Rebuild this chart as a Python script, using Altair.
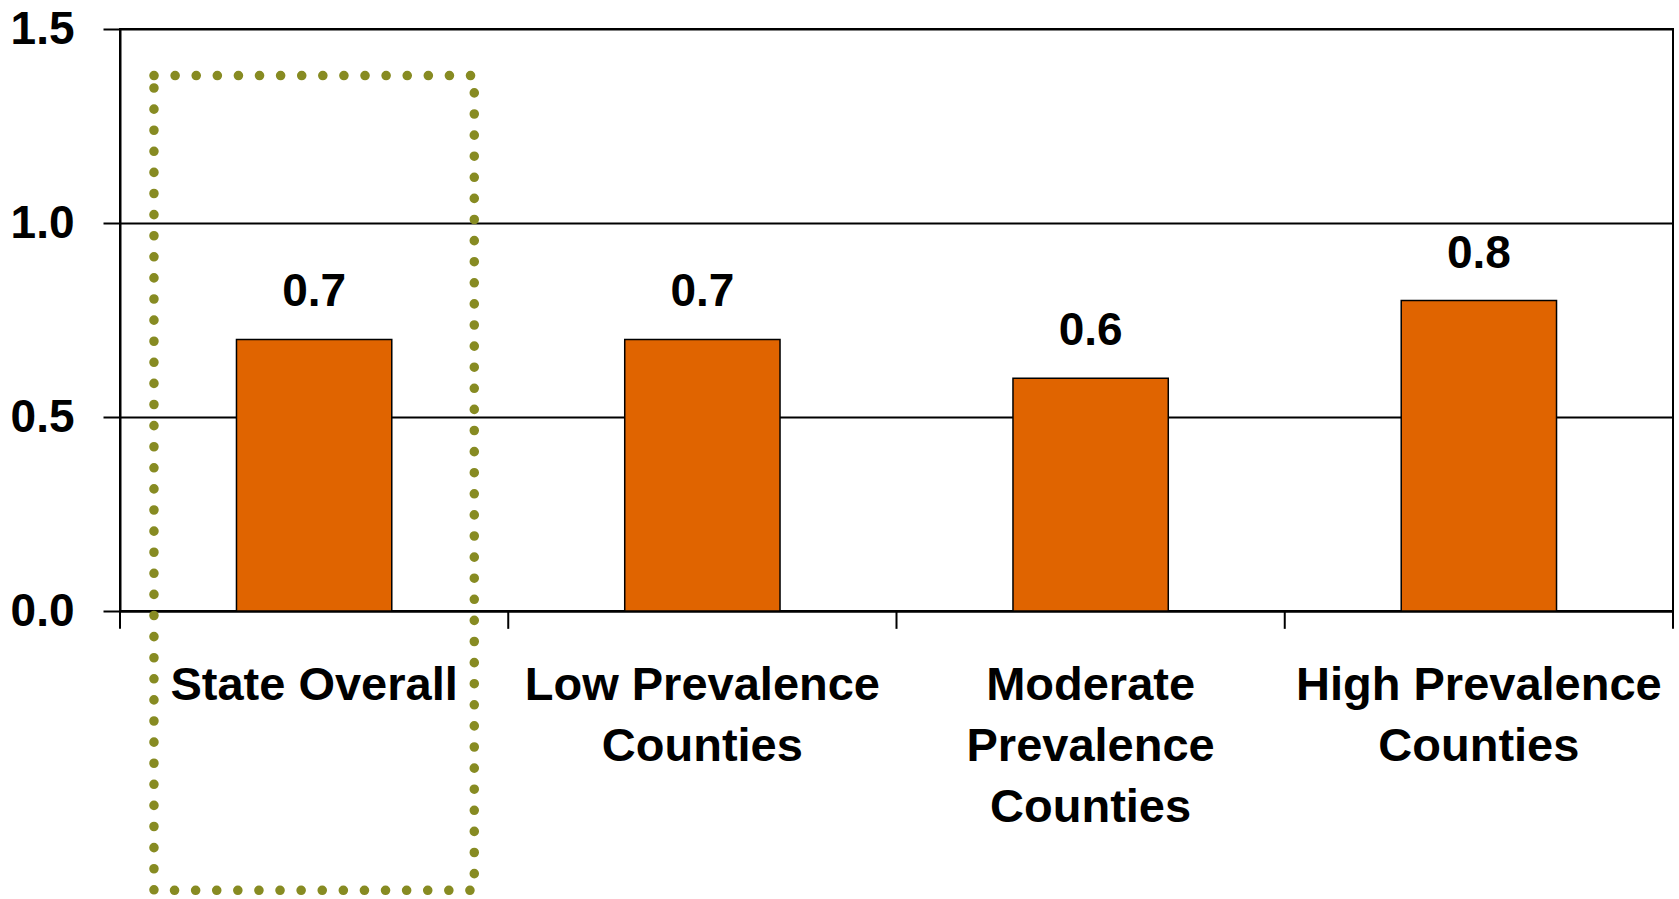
import altair as alt
import pandas as pd

# Categories (line breaks mark where the axis labels wrap) and their values
categories = [
    "State Overall",
    "Low Prevalence\nCounties",
    "Moderate\nPrevalence\nCounties",
    "High Prevalence\nCounties",
]
values = [0.7, 0.7, 0.6, 0.8]
y_ticks = [0.0, 0.5, 1.0, 1.5]

# Dotted highlight frame around the first category (y extent in data units)
highlight = ["State Overall"]
box_top = [1.38]
box_bottom = [-0.72]

# Depth of the category separator ticks below the baseline (data units)
tick_depth = [-0.046]

ORANGE = "#E06400"
OLIVE = "#878B22"
FONT = "Liberation Sans"

W, H = 1553, 582

bars_df = pd.DataFrame({"cat": categories, "value": values})
box_df = pd.DataFrame({"cat": highlight, "top": box_top, "bottom": box_bottom})
ticks_df = pd.DataFrame({"cat": categories, "y0": [0.0] * len(categories),
                         "y1": tick_depth * len(categories)})
end_df = pd.DataFrame({"y0": [0.0], "y1": tick_depth})

x_scale = alt.Scale(domain=categories, paddingInner=0, paddingOuter=0)
y_scale = alt.Scale(domain=[0, 1.5], nice=False)

x_axis = alt.Axis(
    title=None,
    labelAngle=0,
    labelExpr="split(datum.label, '\\n')",
    labelFont=FONT,
    labelFontSize=47,
    labelFontWeight="bold",
    labelColor="black",
    labelBaseline="top",
    labelLineHeight=61,
    labelPadding=51,
    labelLimit=0,
    labelOverlap=False,
    ticks=False,
    tickSize=0,
    domain=True,
    domainColor="black",
    domainWidth=2,
    grid=False,
)
y_axis = alt.Axis(
    title=None,
    values=y_ticks,
    format=".1f",
    labelFont=FONT,
    labelFontSize=46,
    labelFontWeight="bold",
    labelColor="black",
    labelPadding=29,
    tickSize=17,
    tickColor="black",
    tickWidth=2,
    domainColor="black",
    domainWidth=2,
    grid=True,
    gridColor="black",
    gridWidth=2,
    gridOpacity=1,
)

bars = alt.Chart(bars_df).mark_bar(
    color=ORANGE, stroke="black", strokeWidth=1.5,
    width=alt.RelativeBandSize(0.4),
).encode(
    x=alt.X("cat:N", scale=x_scale, sort=categories, axis=x_axis),
    y=alt.Y("value:Q", scale=y_scale, axis=y_axis),
)

labels = alt.Chart(bars_df).mark_text(
    font=FONT, fontSize=46, fontWeight="bold", color="black",
    baseline="alphabetic", dy=-33,
).encode(
    x=alt.X("cat:N", sort=categories),
    y="value:Q",
    text=alt.Text("value:Q", format=".1f"),
)

sep_ticks = alt.Chart(ticks_df).mark_rule(color="black", strokeWidth=2).encode(
    x=alt.X("cat:N", sort=categories, bandPosition=0),
    y="y0:Q",
    y2="y1:Q",
)

end_tick = alt.Chart(end_df).mark_rule(color="black", strokeWidth=2).encode(
    x=alt.value(W),
    y="y0:Q",
    y2="y1:Q",
)

box = alt.Chart(box_df).mark_rect(
    fill="transparent", stroke=OLIVE, strokeWidth=9.5,
    strokeDash=[0.1, 21], strokeCap="round",
    width=alt.RelativeBandSize(0.825),
).encode(
    x=alt.X("cat:N", sort=categories),
    y="top:Q",
    y2="bottom:Q",
)

chart = alt.layer(bars, labels, sep_ticks, end_tick, box).properties(
    width=W,
    height=H,
    autosize=alt.AutoSizeParams(type="none"),
    padding={"left": 120, "top": 29, "right": 6, "bottom": 288},
    background="white",
).configure_view(
    stroke="black", strokeWidth=2,
)

chart.save("out.html", embed_options={"renderer": "svg", "actions": False})
